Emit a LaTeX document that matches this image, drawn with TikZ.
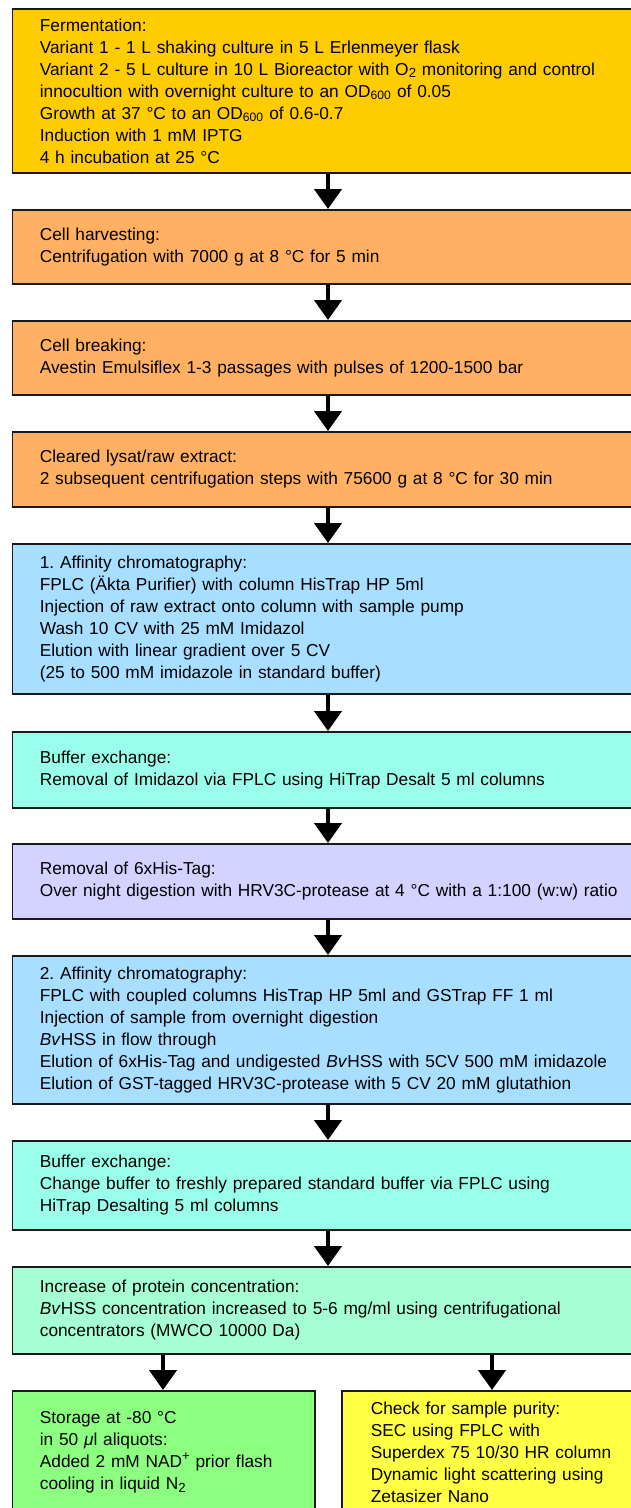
\documentclass[tikz,border=0pt]{standalone}
\usepackage{fontspec}
\setmainfont{Liberation Sans}
\usetikzlibrary{arrows.meta}
\definecolor{fermgold}{RGB}{255,204,0}
\definecolor{harvorange}{RGB}{255,176,98}
\definecolor{affblue}{RGB}{168,222,255}
\definecolor{bufcyan}{RGB}{153,255,234}
\definecolor{taglilac}{RGB}{212,210,255}
\definecolor{concmint}{RGB}{166,255,212}
\definecolor{storegreen}{RGB}{140,255,128}
\definecolor{checkyellow}{RGB}{255,255,68}
\newcommand{\lowsub}[1]{\raisebox{-0.3ex}{\fontsize{13.2}{13.2}\selectfont #1}}
\newcommand{\highsup}[1]{\raisebox{0.75ex}{\fontsize{13.2}{13.2}\selectfont #1}}
\frenchspacing
\tikzset{
  stage/.style={draw=black!90,line width=1.7pt,anchor=north west,align=left,text width=620pt,inner xsep=27.5pt,inner ysep=0pt,font=\fontsize{17.3}{22}\selectfont},
  flow/.style={-{Triangle[width=27pt,length=20pt]},line width=4.5pt,black}
}
\begin{document}
\begin{tikzpicture}[x=1pt,y=-1pt]
			\useasboundingbox (0,0) rectangle (631,1508);
			\coordinate (axis) at (328,0);
			\coordinate (axisL) at (163,0);
			\coordinate (axisR) at (492,0);
			\node[stage,fill=fermgold,minimum height=164pt] (s1) at (11.5,8){Fermentation:\\Variant 1 - 1 L shaking culture in 5 L Erlenmeyer flask\\Variant 2 - 5 L culture in 10 L Bioreactor with O\lowsub{2} monitoring and control\\innocultion with overnight culture to an OD\textsubscript{600} of 0.05\\Growth at 37 °C to an OD\textsubscript{600} of 0.6-0.7\\Induction with 1 mM IPTG\\4 h incubation at 25 °C};
			\node[stage,fill=harvorange,minimum height=74pt] (s2) at (11.5,209){Cell harvesting:\\Centrifugation with 7000 g at 8 °C for 5 min};
			\node[stage,fill=harvorange,minimum height=74pt] (s3) at (11.5,320){Cell breaking:\\Avestin Emulsiflex 1-3 passages with pulses of 1200-1500 bar};
			\node[stage,fill=harvorange,minimum height=75pt] (s4) at (11.5,431){Cleared lysat/raw extract:\\2 subsequent centrifugation steps with 75600 g at 8 °C for 30 min};
			\node[stage,fill=affblue,minimum height=150pt] (s5) at (11.5,543){1. Affinity chromatography:\\FPLC (Äkta Purifier) with column HisTrap HP 5ml\\Injection of raw extract onto column with sample pump\\Wash 10 CV with 25 mM Imidazol\\Elution with linear gradient over 5 CV\\(25 to 500 mM imidazole in standard buffer)};
			\node[stage,fill=bufcyan,minimum height=76pt] (s6) at (11.5,731){Buffer exchange:\\Removal of Imidazol via FPLC using HiTrap Desalt 5 ml columns};
			\node[stage,fill=taglilac,minimum height=75pt] (s7) at (11.5,843){Removal of 6xHis-Tag:\\Over night digestion with HRV3C-protease at 4 °C with a 1:100 (w:w) ratio};
			\node[stage,fill=affblue,minimum height=148pt] (s8) at (11.5,955){2. Affinity chromatography:\\FPLC with coupled columns HisTrap HP 5ml and GSTrap FF 1 ml\\Injection of sample from overnight digestion\\\textit{Bv}HSS in flow through\\Elution of 6xHis-Tag and undigested \textit{Bv}HSS with 5CV 500 mM imidazole\\Elution of GST-tagged HRV3C-protease with 5 CV 20 mM glutathion};
			\node[stage,fill=bufcyan,minimum height=89pt] (s9) at (11.5,1140){Buffer exchange:\\Change buffer to freshly prepared standard buffer via FPLC using\\HiTrap Desalting 5 ml columns};
			\node[stage,fill=concmint,minimum height=87pt] (s10) at (11.5,1266){Increase of protein concentration:\\\textit{Bv}HSS concentration increased to 5-6 mg/ml using centrifugational\\concentrators (MWCO 10000 Da)};
			\node[stage,fill=storegreen,minimum height=123pt,text width=247.5pt] (s11) at (11.5,1390){Storage at -80 °C\\in 50 \textit{μ}l aliquots:\\Added 2 mM NAD\highsup{+} prior flash\\cooling in liquid N\lowsub{2}};
			\node[stage,fill=checkyellow,minimum height=123pt,text width=260pt,inner xsep=29pt] (s12) at (341,1390){Check for sample purity:\\SEC using FPLC with\\Superdex 75 10/30 HR column\\Dynamic light scattering using\\Zetasizer Nano};
			\draw[flow] (s1.south -| axis) -- (s2.north -| axis);
			\draw[flow] (s2.south -| axis) -- (s3.north -| axis);
			\draw[flow] (s3.south -| axis) -- (s4.north -| axis);
			\draw[flow] (s4.south -| axis) -- (s5.north -| axis);
			\draw[flow] (s5.south -| axis) -- (s6.north -| axis);
			\draw[flow] (s6.south -| axis) -- (s7.north -| axis);
			\draw[flow] (s7.south -| axis) -- (s8.north -| axis);
			\draw[flow] (s8.south -| axis) -- (s9.north -| axis);
			\draw[flow] (s9.south -| axis) -- (s10.north -| axis);
			\draw[flow] (s10.south -| axisL) -- (s11.north -| axisL);
			\draw[flow] (s10.south -| axisR) -- (s12.north -| axisR);
		\end{tikzpicture}
\end{document}
